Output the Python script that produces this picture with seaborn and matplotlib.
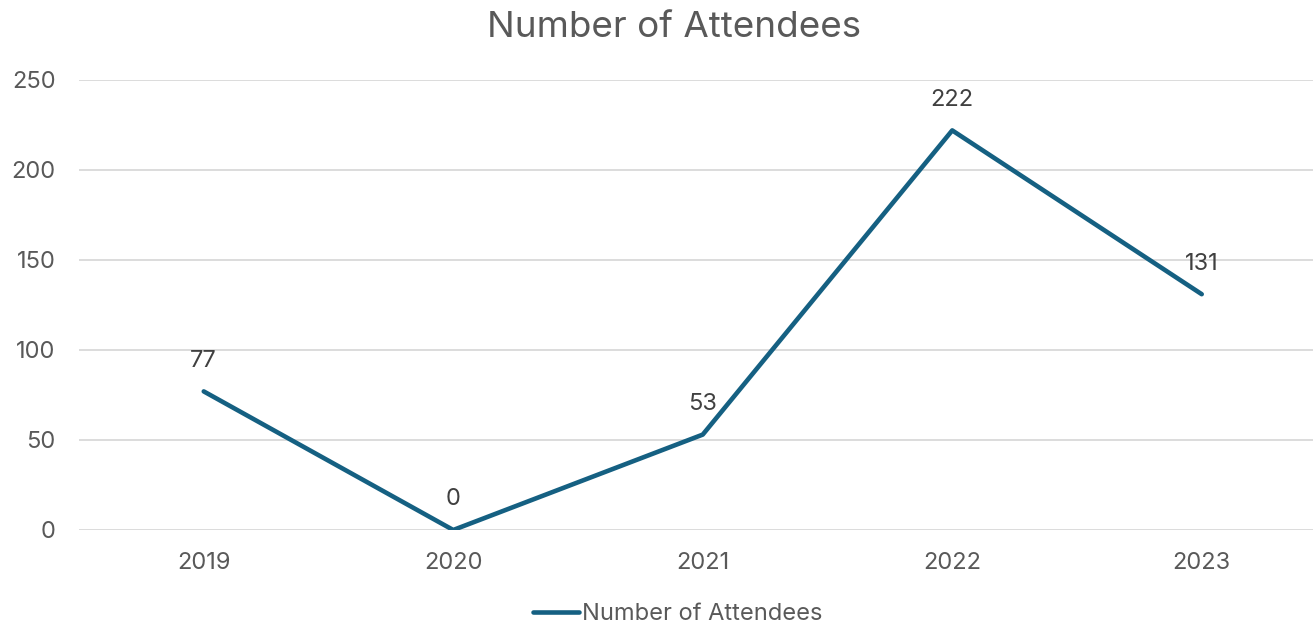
import pandas as pd
import seaborn as sns
import matplotlib.pyplot as plt

years = ['2019', '2020', '2021', '2022', '2023']
attendees = [77, 0, 53, 222, 131]

df = pd.DataFrame({'year': years, 'Number of Attendees': attendees})

sns.set_theme(style='white')
plt.rcParams['font.family'] = ['Inter', 'DejaVu Sans']

line_col = '#156082'
txt_col = '#595959'

fig = plt.figure(figsize=(13.13, 6.29), dpi=100)
ax = fig.add_axes([79 / 1313, (629 - 530) / 629, 1 - 79 / 1313, 450 / 629])

sns.lineplot(data=df, x='year', y='Number of Attendees', color=line_col,
             linewidth=3.3, sort=False, ax=ax, label='Number of Attendees')

for i, v in enumerate(attendees):
    ax.annotate(str(v), (i, v), xytext=(0, 22), textcoords='offset points',
                ha='center', va='center', fontsize=17, color='#404040')

ax.set_ylim(0, 250)
ax.set_xlim(-0.5, 4.446)
ax.set_yticks([0, 50, 100, 150, 200, 250])
ax.yaxis.grid(True, color='#d9d9d9', linewidth=1.3)
ax.set_axisbelow(True)
for s in ax.spines.values():
    s.set_visible(False)
ax.tick_params(axis='both', length=0, labelsize=17, labelcolor=txt_col)
ax.tick_params(axis='y', pad=17)
ax.tick_params(axis='x', pad=16)
ax.set_xlabel('')
ax.set_ylabel('')

fig.text(0.513, 0.957, 'Number of Attendees', ha='center', va='center',
         fontsize=26.5, color=txt_col)

leg = ax.legend(loc='center', bbox_to_anchor=(0.516, 0.024), bbox_transform=fig.transFigure,
                frameon=False, fontsize=17, handlelength=1.95, handletextpad=0.15)
for t in leg.get_texts():
    t.set_color(txt_col)

fig.savefig('out.png', dpi=100)
